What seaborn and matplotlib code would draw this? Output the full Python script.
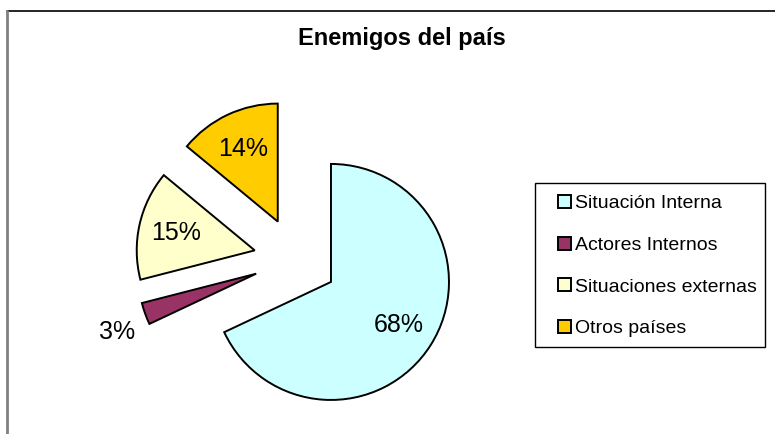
import numpy as np
import seaborn as sns
import matplotlib.pyplot as plt
from matplotlib.lines import Line2D
from matplotlib.patches import Rectangle

# datos
categorias = ["Situación Interna", "Actores Internos", "Situaciones externas", "Otros países"]
porcentajes = [68, 3, 15, 14]
colores = ["#CCFFFF", "#993366", "#FFFFCC", "#FFCC00"]

sns.set_theme(style="white")
plt.rcParams["font.family"] = ["Liberation Sans", "DejaVu Sans"]
plt.rcParams["text.color"] = "black"

W, H = 775, 434
fig = plt.figure(figsize=(W / 100, H / 100), dpi=100)

# eje cuadrado centrado en el centro del pastel (pixeles)
cx, cy, r = 295.6, 259.5, 118
lim = 1.6
lado = 2 * lim * r
ax = fig.add_axes([(cx - lado / 2) / W, (H - cy - lado / 2) / H, lado / W, lado / H])

wedges, textos, autotextos = ax.pie(
    porcentajes, colors=colores, startangle=90, counterclock=False,
    explode=[0.355] * len(porcentajes), autopct="%1.0f%%", pctdistance=0.68,
    wedgeprops=dict(edgecolor="black", linewidth=1.4),
    textprops=dict(fontsize=18, color="black"),
)
ax.set_xlim(-lim, lim)
ax.set_ylim(-lim, lim)
ax.axis("off")

# la etiqueta de la porcion pequeña va afuera
w = wedges[1]
ang = np.deg2rad((w.theta1 + w.theta2) / 2 + 3)
x0, y0 = w.center
autotextos[1].set_position((x0 + 1.28 * np.cos(ang), y0 + 1.28 * np.sin(ang)))

# titulo
fig.text(402 / W, 1 - 39 / H, "Enemigos del país", ha="center", va="center",
         fontsize=17, fontweight="bold", color="black")

# borde del area del grafico
fig.add_artist(Line2D([7 / W, 1], [1 - 11 / H, 1 - 11 / H], color="black", lw=1.2,
                      transform=fig.transFigure))
fig.add_artist(Line2D([7 / W, 7 / W], [0, 1 - 11 / H], color="#808080", lw=2,
                      transform=fig.transFigure))

# leyenda
fig.add_artist(Rectangle((535 / W, 1 - 347 / H), 230 / W, 164 / H, fill=False,
                         edgecolor="black", lw=1, transform=fig.transFigure))
fig.legend(wedges, categorias, loc="upper left", bbox_to_anchor=(558 / W, 1 - 195 / H),
           frameon=False, fontsize=14, handlelength=0.65, handleheight=0.65,
           handletextpad=0.2, labelspacing=1.25, borderpad=0, borderaxespad=0)

fig.savefig("out.png", dpi=100)
